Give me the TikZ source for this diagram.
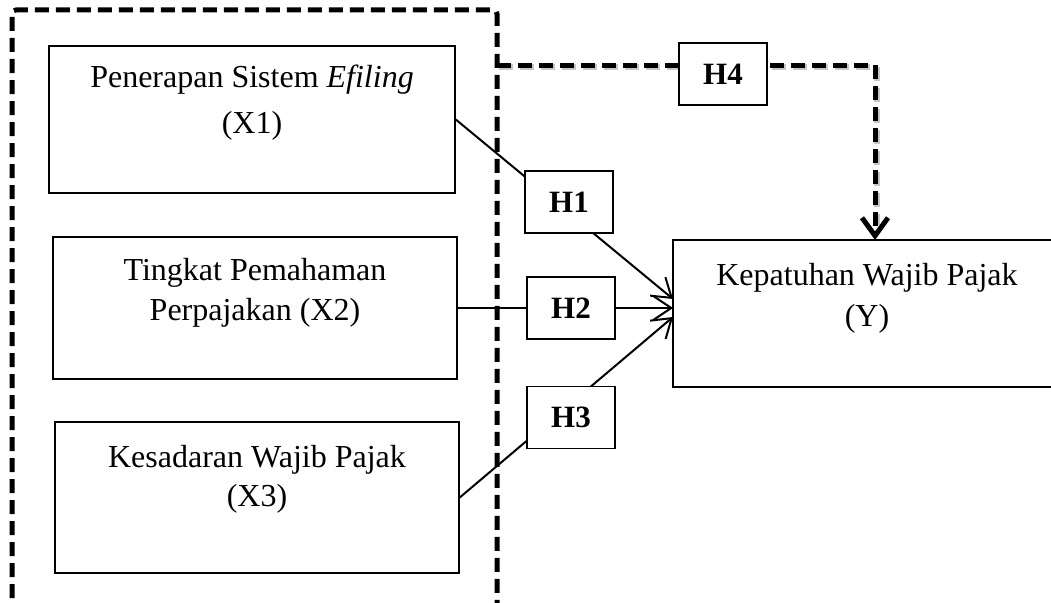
\documentclass[tikz,border=0pt]{standalone}
\usepackage{fontspec}
\setmainfont{Liberation Serif}
\usetikzlibrary{arrows.meta}
\begin{document}
\begin{tikzpicture}[x=1pt,y=-1pt,
  box/.style={draw=black, line width=1.5pt, fill=white, inner sep=0pt},
  hbox/.style={draw=black, line width=1.5pt, fill=white, inner sep=0pt,
    minimum width=88pt, minimum height=62pt, font=\fontsize{31}{36}\selectfont\bfseries},
  txt/.style={anchor=base, inner sep=0pt, font=\fontsize{32}{38}\selectfont},
  conn/.style={draw=black, line width=2pt},
  arr/.style={conn, -{Straight Barb[length=18pt,width=24pt,line width=2pt]}},
  bigdash/.style={draw=black, line width=5pt, dash pattern=on 14pt off 7pt},
  shadowdash/.style={draw=black!22, line width=6pt, dash pattern=on 14pt off 7pt},
]
\useasboundingbox (0,0) rectangle (1051,602);
\clip (0,0) rectangle (1051,602);

% outer dashed group frame
\draw[bigdash, rounded corners=4pt] (12,640) -- (12,10) -- (497,10) -- (497,640);

% variable boxes
\node[box, minimum width=406pt, minimum height=147pt] (x1) at (252,119.5) {};
\node[box, minimum width=404pt, minimum height=142pt] (x2) at (255,308) {};
\node[box, minimum width=404pt, minimum height=151pt] (x3) at (257,497.5) {};
\node[box, minimum width=389pt, minimum height=147pt] (y) at (867.5,313.5) {};

\node[txt] (x1a) at (252,87) {Penerapan Sistem \textit{Efiling}};
\node[txt] (x1b) at (252,133) {(X1)};
\node[txt] (x2a) at (255,280) {Tingkat Pemahaman};
\node[txt] (x2b) at (255,320) {Perpajakan (X2)};
\node[txt] (x3a) at (257,467) {Kesadaran Wajib Pajak};
\node[txt] (x3b) at (257,506) {(X3)};
\node[txt] (ya) at (867,285) {Kepatuhan Wajib Pajak};
\node[txt] (yb) at (867,326) {(Y)};

% arrow end points on Y
\coordinate (t1) at (673,299);
\coordinate (t2) at (673,308);
\coordinate (t3) at (673,317);
\coordinate (f4) at (497,65);
\coordinate (k4) at (875,65);
\coordinate (t4) at (875,240);
\coordinate (s4) at (498.5,67);
\coordinate (sk4) at (876.5,67);
\coordinate (st4) at (876.5,225);

% connectors
\draw[arr] (x1.east) -- (t1);
\draw[arr] (x2.east) -- (t2);
\draw[arr] (x3.east) -- (t3);
\draw[shadowdash] (s4) -- (sk4) -- (st4);
\draw[bigdash, -{Straight Barb[length=18pt,width=26pt,line width=5pt]}] (f4) -- (k4) -- (t4);

% hypothesis labels
\node[hbox] (h1) at (569,202) {H1};
\node[hbox] (h2) at (571,308) {H2};
\node[hbox] (h3) at (571,417.5) {H3};
\node[hbox] (h4) at (723,74) {H4};
\end{tikzpicture}
\end{document}
